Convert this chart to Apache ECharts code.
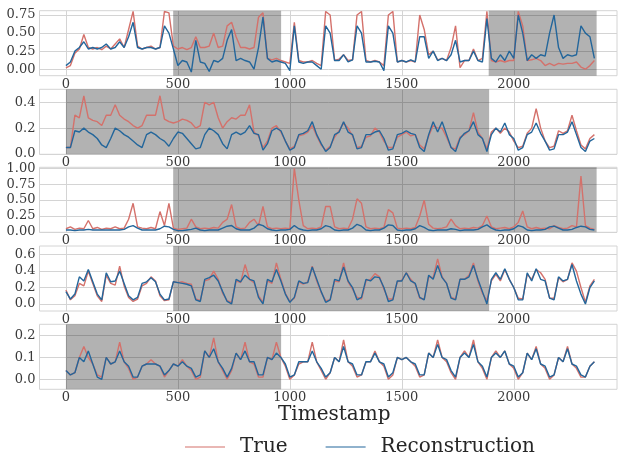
<!DOCTYPE html>
<html><head><meta charset="utf-8">
<script src="https://cdn.jsdelivr.net/npm/echarts@6/dist/echarts.min.js"></script>
<style>html,body{margin:0;padding:0;background:#fff}#c{width:619px;height:453px}</style>
</head><body><div id="c"></div>
<script>
// sample positions (every 20 timestamps)
const timestamps = Array.from({length:119},(_,i)=>i*20);
const xTicks = [0,500,1000,1500,2000];

const p1True = [0.02,0.05,0.22,0.28,0.48,0.3,0.28,0.3,0.27,0.32,
0.28,0.35,0.42,0.3,0.55,0.8,0.32,0.28,0.3,0.32,
0.28,0.3,0.8,0.78,0.32,0.28,0.3,0.27,0.3,0.45,
0.3,0.3,0.32,0.5,0.3,0.32,0.6,0.65,0.45,0.3,
0.3,0.28,0.3,0.72,0.78,0.15,0.13,0.15,0.12,0.1,
0.08,0.65,0.12,0.1,0.1,0.12,0.08,0.05,0.8,0.75,
0.12,0.14,0.2,0.12,0.13,0.75,0.8,0.12,0.1,0.12,
0.1,0.05,0.75,0.8,0.1,0.12,0.1,0.12,0.1,0.75,
0.55,0.2,0.25,0.13,0.15,0.12,0.3,0.6,0.02,0.12,
0.12,0.28,0.12,0.15,0.8,0.12,0.1,0.12,0.1,0.12,
0.12,0.8,0.6,0.12,0.13,0.15,0.12,0.05,0.08,0.05,
0.08,0.07,0.08,0.08,0.1,0.03,0.0,0.05,0.12];
const p1Rec = [0.05,0.1,0.25,0.3,0.38,0.28,0.3,0.28,0.3,0.35,
0.28,0.3,0.38,0.3,0.45,0.65,0.3,0.28,0.3,0.3,
0.28,0.3,0.6,0.5,0.28,0.05,0.12,0.1,-0.04,0.4,
0.1,0.08,-0.03,0.12,0.1,0.15,0.4,0.55,0.12,0.15,
0.12,0.1,0.0,0.3,0.72,0.15,0.1,0.12,0.1,0.08,
-0.02,0.6,0.1,0.08,0.1,0.1,0.05,0.0,0.6,0.5,
0.12,0.12,0.2,0.1,0.13,0.6,0.5,0.1,0.1,0.11,
0.1,-0.02,0.6,0.5,0.1,0.12,0.1,0.13,0.1,0.45,
0.45,0.15,0.25,0.12,0.15,0.12,0.2,0.4,0.1,0.12,
0.12,0.25,0.12,0.1,0.7,0.15,0.1,0.2,0.12,0.25,
0.15,0.75,0.5,0.12,0.2,0.15,0.2,0.18,0.5,0.75,
0.3,0.15,0.2,0.18,0.2,0.6,0.5,0.45,0.15];

const p2True = [0.05,0.05,0.3,0.28,0.45,0.28,0.26,0.25,0.22,0.3,
0.3,0.38,0.3,0.27,0.25,0.22,0.2,0.22,0.3,0.3,
0.3,0.45,0.27,0.25,0.24,0.25,0.27,0.26,0.24,0.2,
0.22,0.4,0.38,0.4,0.28,0.2,0.25,0.28,0.27,0.3,
0.3,0.38,0.17,0.14,0.05,0.1,0.2,0.22,0.17,0.1,
0.04,0.06,0.14,0.15,0.17,0.22,0.14,0.07,0.03,0.06,
0.13,0.18,0.24,0.2,0.14,0.05,0.06,0.13,0.14,0.2,
0.17,0.1,0.05,0.05,0.13,0.15,0.17,0.14,0.15,0.07,
0.04,0.14,0.22,0.2,0.2,0.13,0.05,0.04,0.13,0.15,
0.18,0.32,0.17,0.12,0.04,0.17,0.2,0.16,0.2,0.17,
0.1,0.05,0.06,0.16,0.2,0.35,0.2,0.1,0.05,0.06,
0.18,0.16,0.18,0.3,0.18,0.07,0.04,0.12,0.15];
const p2Rec = [0.05,0.05,0.18,0.17,0.2,0.17,0.15,0.12,0.07,0.05,
0.12,0.2,0.18,0.15,0.13,0.1,0.07,0.05,0.15,0.17,
0.15,0.12,0.1,0.06,0.12,0.17,0.16,0.12,0.08,0.04,
0.05,0.15,0.2,0.18,0.15,0.08,0.04,0.15,0.17,0.15,
0.17,0.22,0.16,0.15,0.03,0.08,0.18,0.2,0.18,0.1,
0.03,0.05,0.15,0.16,0.18,0.25,0.15,0.08,0.02,0.05,
0.15,0.17,0.25,0.17,0.15,0.04,0.05,0.15,0.15,0.17,
0.18,0.12,0.03,0.04,0.15,0.16,0.18,0.16,0.15,0.05,
0.02,0.15,0.25,0.17,0.25,0.15,0.05,0.02,0.12,0.16,
0.18,0.25,0.15,0.12,0.02,0.15,0.2,0.17,0.24,0.15,
0.12,0.03,0.05,0.15,0.17,0.24,0.16,0.1,0.03,0.04,
0.15,0.15,0.17,0.25,0.15,0.05,0.02,0.1,0.12];

const p3True = [0.05,0.08,0.04,0.06,0.05,0.18,0.05,0.07,0.04,0.06,
0.05,0.08,0.05,0.06,0.2,0.45,0.08,0.06,0.05,0.07,
0.05,0.32,0.1,0.45,0.06,0.04,0.05,0.06,0.2,0.08,
0.05,0.06,0.05,0.07,0.06,0.15,0.2,0.43,0.08,0.05,
0.06,0.15,0.2,0.1,0.4,0.08,0.05,0.06,0.05,0.06,
0.05,1.0,0.5,0.1,0.05,0.06,0.05,0.08,0.4,0.4,
0.08,0.05,0.06,0.05,0.2,0.52,0.45,0.08,0.05,0.06,
0.05,0.07,0.35,0.3,0.06,0.05,0.06,0.05,0.07,0.25,
0.5,0.12,0.06,0.05,0.06,0.08,0.2,0.1,0.05,0.06,
0.05,0.07,0.06,0.1,0.25,0.08,0.05,0.06,0.07,0.05,
0.08,0.15,0.33,0.08,0.05,0.07,0.05,0.06,0.05,0.1,
0.07,0.05,0.06,0.1,0.08,0.88,0.1,0.06,0.04];
const p3Rec = [0.03,0.03,0.02,0.03,0.03,0.04,0.03,0.03,0.03,0.03,
0.03,0.03,0.03,0.04,0.08,0.1,0.06,0.03,0.03,0.03,
0.03,0.05,0.09,0.08,0.04,0.02,0.02,0.03,0.04,0.06,
0.03,0.02,0.03,0.03,0.03,0.06,0.09,0.1,0.05,0.03,
0.03,0.03,0.06,0.12,0.1,0.05,0.03,0.02,0.03,0.03,
0.04,0.1,0.05,0.03,0.02,0.03,0.03,0.05,0.1,0.08,
0.03,0.02,0.03,0.03,0.06,0.12,0.09,0.03,0.02,0.03,
0.03,0.06,0.11,0.1,0.03,0.02,0.03,0.03,0.05,0.1,
0.07,0.03,0.02,0.03,0.03,0.03,0.05,0.04,0.02,0.03,
0.03,0.03,0.04,0.08,0.11,0.06,0.03,0.02,0.03,0.03,
0.05,0.1,0.08,0.03,0.02,0.03,0.03,0.04,0.08,0.09,
0.06,0.03,0.03,0.04,0.07,0.09,0.08,0.04,0.03];

const p4True = [0.17,0.05,0.1,0.25,0.22,0.4,0.25,0.1,0.03,0.35,
0.25,0.23,0.46,0.22,0.08,0.03,0.06,0.22,0.25,0.33,
0.28,0.1,0.04,0.05,0.27,0.26,0.27,0.25,0.24,0.06,
0.04,0.28,0.3,0.4,0.3,0.13,0.04,0.02,0.28,0.26,
0.48,0.3,0.26,0.1,0.02,0.28,0.25,0.5,0.3,0.13,
0.03,0.07,0.27,0.24,0.27,0.46,0.28,0.14,0.04,0.05,
0.28,0.27,0.5,0.27,0.18,0.08,0.06,0.28,0.3,0.37,
0.33,0.18,0.06,0.06,0.27,0.29,0.38,0.3,0.24,0.07,
0.06,0.33,0.32,0.55,0.33,0.25,0.08,0.06,0.3,0.3,
0.35,0.5,0.28,0.13,0.04,0.28,0.36,0.28,0.42,0.3,
0.2,0.07,0.06,0.36,0.3,0.42,0.38,0.3,0.07,0.07,
0.32,0.27,0.3,0.5,0.4,0.2,0.02,0.22,0.3];
const p4Rec = [0.15,0.06,0.12,0.33,0.28,0.42,0.27,0.12,0.05,0.38,
0.27,0.28,0.4,0.25,0.1,0.05,0.08,0.25,0.27,0.32,
0.27,0.12,0.05,0.06,0.27,0.26,0.25,0.24,0.22,0.05,
0.03,0.3,0.32,0.35,0.28,0.15,0.03,0.0,0.3,0.27,
0.35,0.3,0.28,0.08,0.0,0.3,0.27,0.42,0.28,0.12,
0.02,0.08,0.28,0.25,0.26,0.45,0.3,0.15,0.02,0.05,
0.3,0.28,0.45,0.28,0.2,0.05,0.08,0.3,0.28,0.33,
0.32,0.2,0.03,0.05,0.28,0.28,0.38,0.28,0.25,0.08,
0.05,0.35,0.3,0.47,0.32,0.25,0.07,0.05,0.3,0.3,
0.33,0.47,0.3,0.15,0.0,0.3,0.38,0.3,0.43,0.3,
0.2,0.05,0.05,0.38,0.28,0.43,0.3,0.28,0.07,0.05,
0.33,0.28,0.3,0.48,0.28,0.12,0.0,0.2,0.28];

const p5True = [0.04,0.02,0.03,0.1,0.15,0.1,0.07,0.02,0.01,0.1,
0.07,0.08,0.17,0.08,0.05,0.0,0.01,0.06,0.07,0.09,
0.07,0.06,0.01,0.04,0.07,0.06,0.09,0.06,0.04,0.0,
0.01,0.13,0.1,0.19,0.08,0.04,0.0,0.04,0.12,0.09,
0.17,0.08,0.07,0.01,0.01,0.1,0.09,0.17,0.1,0.06,
0.0,0.02,0.07,0.08,0.08,0.17,0.08,0.04,0.0,0.03,
0.1,0.08,0.18,0.08,0.06,0.01,0.02,0.08,0.08,0.13,
0.08,0.06,0.0,0.02,0.1,0.09,0.1,0.08,0.06,0.01,
0.02,0.12,0.1,0.18,0.1,0.08,0.03,0.0,0.1,0.13,
0.1,0.18,0.08,0.05,0.0,0.1,0.13,0.1,0.13,0.07,
0.05,0.0,0.03,0.12,0.09,0.15,0.07,0.05,0.0,0.02,
0.1,0.08,0.15,0.07,0.05,0.01,0.01,0.06,0.08];
const p5Rec = [0.04,0.02,0.03,0.1,0.08,0.13,0.07,0.01,0.0,0.1,
0.07,0.08,0.13,0.08,0.06,0.01,0.01,0.06,0.07,0.07,
0.07,0.06,0.02,0.04,0.07,0.06,0.08,0.06,0.05,0.01,
0.02,0.13,0.1,0.14,0.08,0.05,0.01,0.05,0.12,0.09,
0.13,0.08,0.08,0.02,0.02,0.1,0.09,0.12,0.1,0.07,
0.01,0.02,0.08,0.08,0.08,0.13,0.08,0.05,0.01,0.03,
0.1,0.08,0.15,0.08,0.07,0.02,0.02,0.08,0.08,0.12,
0.08,0.07,0.01,0.03,0.1,0.09,0.1,0.08,0.07,0.02,
0.02,0.12,0.1,0.16,0.1,0.09,0.04,0.01,0.1,0.12,
0.1,0.16,0.08,0.06,0.01,0.1,0.12,0.1,0.13,0.07,
0.06,0.01,0.03,0.12,0.09,0.14,0.07,0.06,0.01,0.02,
0.1,0.08,0.14,0.07,0.06,0.02,0.01,0.06,0.08];

const trueSeries = [p1True,p2True,p3True,p4True,p5True];
const recSeries = [p1Rec,p2Rec,p3Rec,p4Rec,p5Rec];
const yMins = [-0.09,-0.002,-0.006,-0.086,-0.046];
const yMaxs = [0.81,0.5,1.016,0.706,0.252];
const yTicks = [[0,0.25,0.5,0.75],[0,0.2,0.4],[0,0.25,0.5,0.75,1],[0,0.2,0.4,0.6],[0,0.1,0.2]];
const yDecimals = [2,1,2,1,1];
const shaded = [[[479,961],[1888,2370]],[[0,1890]],[[479,2370]],[[479,1890]],[[0,961]]];

const gridTops = [10.7,89.3,167.3,246,324.3];
const font = 'DejaVu Serif';
const red = '#d4716b', blue = '#23669b';
const gridCol = '#d4d4d4';

const grids=[], xAxes=[], yAxes=[], series=[];
for (let k=0;k<5;k++){
  grids.push({left:39.5, right:2, top:gridTops[k], height:65, show:true, borderColor:gridCol, borderWidth:1, backgroundColor:'#fff'});
  xAxes.push({type:'value', gridIndex:k, min:-118, max:2461,
    axisLine:{show:false}, axisTick:{show:false, customValues:xTicks},
    axisLabel:{customValues:xTicks, fontFamily:font, fontSize:13, color:'#3a3a3a', margin:2,
      formatter:(v)=>String(v)},
    splitLine:{show:true, lineStyle:{color:gridCol, width:1}}});
  yAxes.push({type:'value', gridIndex:k, min:yMins[k], max:yMaxs[k],
    axisLine:{show:false}, axisTick:{show:false, customValues:yTicks[k]},
    axisLabel:{customValues:yTicks[k], fontFamily:font, fontSize:13, color:'#3a3a3a', margin:4,
      formatter:(v)=>v.toFixed(yDecimals[k])},
    splitLine:{show:true, lineStyle:{color:gridCol, width:1}}});
  series.push({type:'line', name:'shade', xAxisIndex:k, yAxisIndex:k, data:[], z:1, silent:true,
    markArea:{silent:true, itemStyle:{color:'rgba(0,0,0,0.3)'},
      data: shaded[k].map(r=>[{xAxis:r[0]},{xAxis:r[1]}])}});
  series.push({type:'line', name:'True', xAxisIndex:k, yAxisIndex:k, z:3, symbol:'none', animation:false,
    data: timestamps.map((t,i)=>[t,trueSeries[k][i]]), lineStyle:{color:red, width:1.4}, itemStyle:{color:red}});
  series.push({type:'line', name:'Reconstruction', xAxisIndex:k, yAxisIndex:k, z:4, symbol:'none', animation:false,
    data: timestamps.map((t,i)=>[t,recSeries[k][i]]), lineStyle:{color:blue, width:1.4}, itemStyle:{color:blue}});
}

const chart = echarts.init(document.getElementById('c'), null, {renderer:'canvas'});
chart.setOption({
  backgroundColor:'#fff',
  animation:false,
  grid:grids, xAxis:xAxes, yAxis:yAxes, series:series,
  legend:{data:['True','Reconstruction'], left:180, top:432, itemWidth:40, itemHeight:14, itemGap:38,
    icon:'path://M0,0L40,0L40,1L0,1Z',
    textStyle:{fontFamily:font, fontSize:20, color:'#262626', padding:[0,0,0,10]}},
  graphic:[{type:'text', left:278, top:405, style:{text:'Timestamp', font:'20px "DejaVu Serif"', fill:'#262626'}}]
});
</script></body></html>
